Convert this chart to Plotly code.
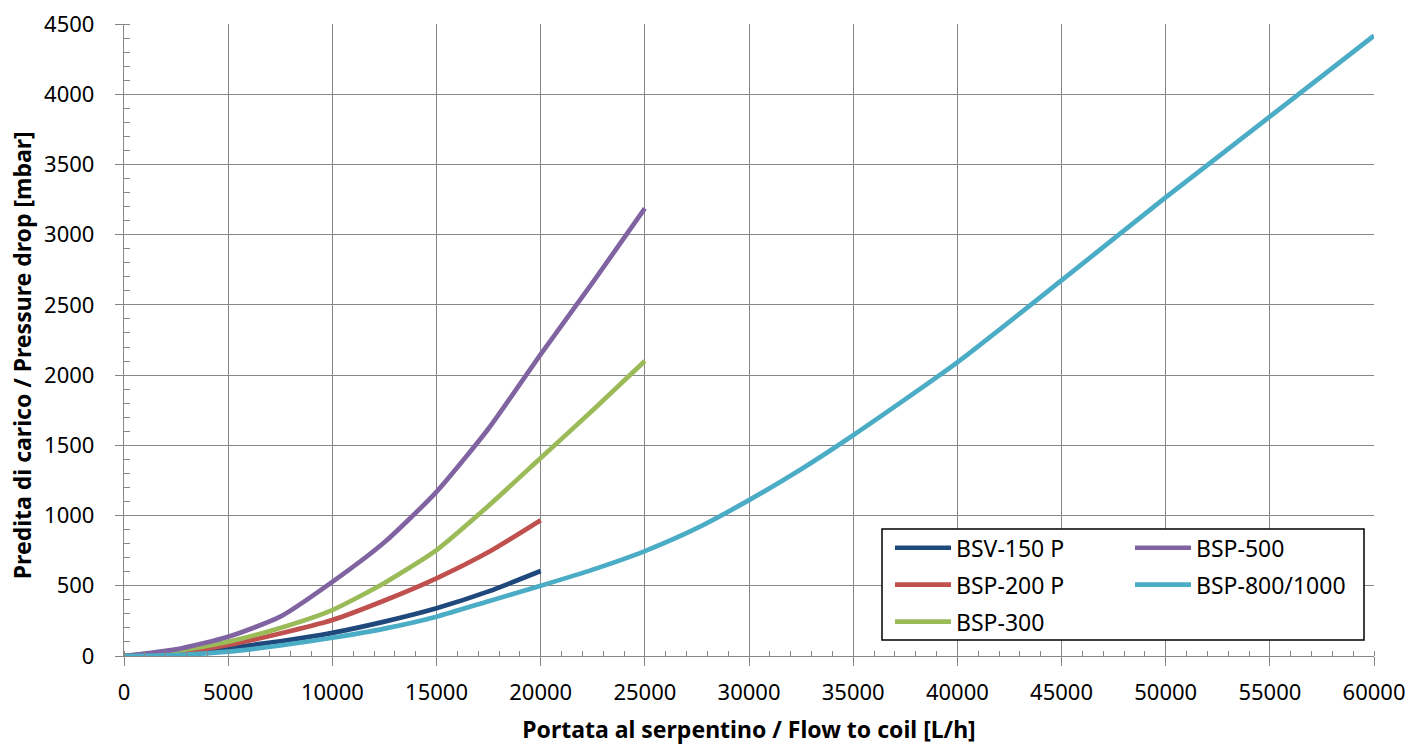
import plotly.graph_objects as go

flow_20k = [0, 2500, 5000, 7500, 10000, 12500, 15000, 17500, 20000]
flow_25k = [0, 2500, 5000, 7500, 10000, 12500, 15000, 17500, 20000, 22500, 25000]
flow_60k = [0, 2500, 5000, 7500, 10000, 12500, 15000, 17500, 20000, 22500, 25000,
            27500, 30000, 32500, 35000, 40000, 45000, 50000, 55000, 60000]

bsv150p = [0, 15, 57, 105, 165, 245, 340, 460, 605]
bsp200p = [0, 22, 78, 160, 256, 395, 553, 740, 967]
bsp300 = [0, 36, 102, 200, 327, 520, 754, 1070, 1410, 1750, 2100]
bsp500 = [0, 47, 137, 280, 528, 810, 1169, 1620, 2148, 2660, 3187]
bsp800 = [0, 7, 31, 75, 130, 195, 280, 390, 500, 615, 747,
          910, 1110, 1330, 1572, 2091, 2674, 3265, 3840, 4417]

series = [
    ("BSV-150 P", flow_20k, bsv150p, "#1F497D", "legend"),
    ("BSP-200 P", flow_20k, bsp200p, "#C0504D", "legend"),
    ("BSP-300", flow_25k, bsp300, "#9BBB59", "legend"),
    ("BSP-500", flow_25k, bsp500, "#8064A2", "legend2"),
    ("BSP-800/1000", flow_60k, bsp800, "#4BACC6", "legend2"),
]

fig = go.Figure()
for name, x, y, color, leg in series:
    fig.add_trace(go.Scatter(
        x=x, y=y, name=name, mode="lines",
        line=dict(color=color, width=4.7, shape="spline", smoothing=0.6),
        legend=leg, legendgroup=name,
    ))

grid = "#878787"
font = "Noto Sans"
legend_style = dict(
    orientation="v", xanchor="left", yanchor="top",
    bgcolor="rgba(0,0,0,0)", borderwidth=0, itemwidth=56,
    font=dict(family=font, size=23, color="black"),
    traceorder="grouped", tracegroupgap=4,
)

fig.add_shape(type="rect", xref="paper", yref="paper",
              x0=0.6064, x1=0.992, y0=0.0253, y1=0.2009,
              line=dict(color="black", width=1.5), fillcolor="white", layer="above")

fig.add_annotation(
    text="<b>Predita di carico / Pressure drop [mbar]</b>",
    xref="paper", yref="paper", x=-0.0816, y=0.476,
    xanchor="center", yanchor="middle", textangle=-90, showarrow=False,
    font=dict(family=font, size=23, color="black"),
)

fig.update_layout(
    width=1409, height=745,
    margin=dict(l=124, r=35, t=24, b=89),
    paper_bgcolor="white", plot_bgcolor="white",
    font=dict(family=font, size=22, color="black"),
    legend=dict(x=0.6128, y=0.2052, **legend_style),
    legend2=dict(x=0.8048, y=0.2052, **legend_style),
    xaxis=dict(
        range=[0, 60000], dtick=5000, tick0=0, tickformat="d", automargin=False,
        showgrid=True, gridcolor=grid, gridwidth=1.3,
        showline=True, linecolor=grid, linewidth=1.3, zeroline=False,
        ticks="outside", ticklen=9, tickcolor=grid, tickwidth=1.3,
        ticklabelstandoff=7,
        tickfont=dict(family=font, size=22, color="black"),
        minor=dict(dtick=1000, ticks="inside", ticklen=5, tickcolor=grid, showgrid=False),
        title=dict(text="<b>Portata al serpentino / Flow to coil [L/h]</b>",
                   font=dict(family=font, size=23, color="black"), standoff=17),
    ),
    yaxis=dict(
        range=[0, 4500], dtick=500, tick0=0, automargin=False,
        showgrid=True, gridcolor=grid, gridwidth=1.3,
        showline=True, linecolor=grid, linewidth=1.3, zeroline=False,
        ticks="outside", ticklen=8, tickcolor=grid, tickwidth=1.3,
        ticklabelstandoff=16,
        tickfont=dict(family=font, size=22, color="black"),
        minor=dict(dtick=100, ticks="inside", ticklen=6, tickcolor=grid, showgrid=False),
    ),
)

fig.write_html("out.html")
